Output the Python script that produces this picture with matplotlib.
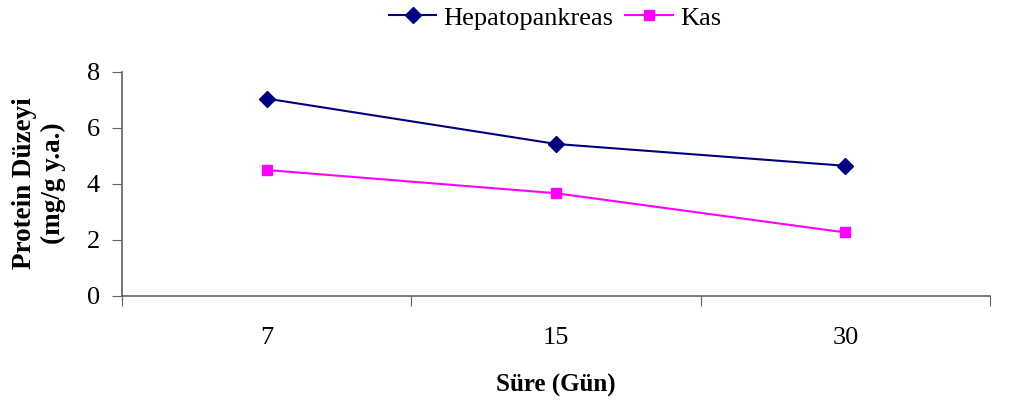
import matplotlib
matplotlib.use("Agg")
import matplotlib.pyplot as plt
import numpy as np

plt.rcParams['font.family'] = ['Liberation Serif', 'DejaVu Serif']

days = ["7", "15", "30"]
hepatopankreas = [7.05, 5.43, 4.65]
kas = [4.50, 3.67, 2.27]
y_ticks = [0, 2, 4, 6, 8]

fig = plt.figure(figsize=(10.29, 4.09), dpi=100)
ax = fig.add_axes([122 / 1029, 1 - 296 / 409, (990 - 122) / 1029, (296 - 72) / 409])

x = np.arange(len(days))
ax.plot(x, hepatopankreas, color='#000080', lw=1.5, marker='D', ms=8,
        label='Hepatopankreas')
ax.plot(x, kas, color='#FF00FF', lw=1.5, marker='s', ms=7.5, label='Kas')

ax.set_xlim(-0.5, len(days) - 0.5)
ax.set_ylim(0, 8)
ax.set_yticks(y_ticks)
ax.set_yticklabels([str(v) for v in y_ticks], fontsize=19)

# category labels sit between boundary tick marks
ax.set_xticks(np.arange(-0.5, len(days)), minor=False)
ax.set_xticklabels([])
ax.set_xticks(x, minor=True)
ax.set_xticklabels(days, minor=True, fontsize=19)
ax.tick_params(axis='x', which='minor', length=0, pad=22)
ax.tick_params(axis='x', which='major', length=7, direction='out', color='#606060')
ax.tick_params(axis='y', length=7, direction='out', color='#606060', pad=9)

for s in ['top', 'right']:
    ax.spines[s].set_visible(False)
for s in ['left', 'bottom']:
    ax.spines[s].set_color('#606060')
    ax.spines[s].set_linewidth(1.2)

ax.set_xlabel('Süre (Gün)', fontsize=18, fontweight='bold', labelpad=18)
fig.text(25 / 1029, 1 - 183 / 409, 'Protein Düzeyi', rotation=90, fontsize=19.5,
         fontweight='bold', ha='center', va='center')
fig.text(53 / 1029, 1 - 183 / 409, '(mg/g y.a.)', rotation=90, fontsize=19.5,
         fontweight='bold', ha='center', va='center')

fig.legend(loc='center', bbox_to_anchor=(555 / 1029, 1 - 18 / 409), ncol=2,
           frameon=False, fontsize=19, handlelength=1.8, columnspacing=0.45,
           handletextpad=0.27, borderpad=0)

fig.savefig('out.png', dpi=100)
